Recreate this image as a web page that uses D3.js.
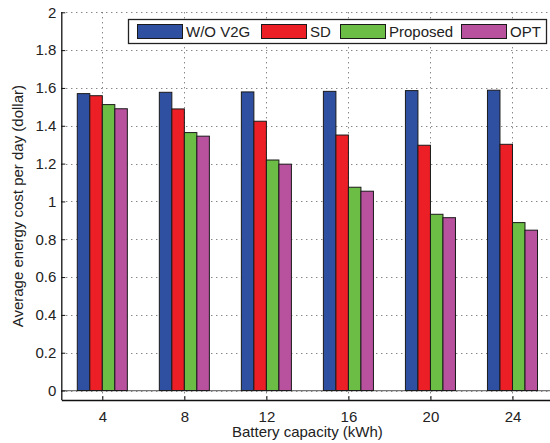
<!DOCTYPE html>
<html>
<head>
<meta charset="utf-8">
<script src="https://cdn.jsdelivr.net/npm/d3@7"></script>
<style>
  body { margin: 0; background: #fff; }
  svg { display: block; font-family: "Liberation Sans", Arial, Helvetica, sans-serif; }
</style>
</head>
<body>
<svg id="chart" width="550" height="443"></svg>
<script>
// battery capacity (kWh)
const capacities = [4, 8, 12, 16, 20, 24];
const seriesNames = ["W/O V2G", "SD", "Proposed", "OPT"];
const woV2G    = [1.570, 1.577, 1.579, 1.582, 1.586, 1.588];
const sd       = [1.559, 1.489, 1.424, 1.351, 1.297, 1.302];
const proposed = [1.512, 1.364, 1.219, 1.075, 0.932, 0.888];
const opt      = [1.490, 1.345, 1.197, 1.054, 0.914, 0.848];
const yTicks = [0, 0.2, 0.4, 0.6, 0.8, 1, 1.2, 1.4, 1.6, 1.8, 2];
const colors = ["#2f4fa1", "#ec1f26", "#6bbd45", "#b8529e"];

const seriesVals = [woV2G, sd, proposed, opt];

const svg = d3.select('#chart');
const plotLeft = 61.3, plotRight = 553.5, plotTop = 12.3, plotBottom = 400;

let x = d3.scaleLinear().domain([2, 26]).range([plotLeft, plotRight]);
let y = d3.scaleLinear().domain([-0.05, 2]).range([plotBottom, plotTop]);
// bars inside each group, in kWh units
let inner = d3.scaleBand().domain(d3.range(4)).range([-1.22, 1.22]);

// dotted grid
let grid = svg.append('g').attr('stroke', '#555').attr('stroke-width', 1)
  .attr('stroke-dasharray', '1,4');
grid.selectAll('.gy').data(yTicks).enter().append('line')
  .attr('x1', plotLeft).attr('x2', plotRight)
  .attr('y1', d => Math.round(y(d)) + 0.5).attr('y2', d => Math.round(y(d)) + 0.5);
grid.selectAll('.gx').data(capacities).enter().append('line')
  .attr('x1', d => Math.round(x(d)) + 0.5).attr('x2', d => Math.round(x(d)) + 0.5)
  .attr('y1', plotTop).attr('y2', plotBottom);

// baseline at zero
svg.append('line')
  .attr('x1', plotLeft).attr('x2', plotRight)
  .attr('y1', y(0)).attr('y2', y(0))
  .attr('stroke', '#777').attr('stroke-width', 1.2);

// bars
seriesVals.forEach(function (vals, s) {
  svg.append('g').selectAll('rect').data(vals).enter().append('rect')
    .attr('x', (d, i) => x(capacities[i] + inner(s)))
    .attr('width', x(inner.bandwidth()) - x(0))
    .attr('y', d => y(d))
    .attr('height', d => y(0) - y(d))
    .attr('fill', colors[s])
    .attr('stroke', '#1a1a1a').attr('stroke-width', 1);
});

// axes
let xAxis = svg.append('g')
  .attr('transform', 'translate(0,' + plotBottom + ')')
  .call(d3.axisBottom(x).tickValues(capacities).tickSizeInner(-4).tickSizeOuter(0).tickPadding(11));
let yAxis = svg.append('g')
  .attr('transform', 'translate(' + plotLeft + ',0)')
  .call(d3.axisLeft(y).tickValues(yTicks).tickSizeInner(-4).tickSizeOuter(0).tickPadding(5)
    .tickFormat(d3.format('')));
[xAxis, yAxis].forEach(function (a) {
  a.select('.domain').attr('stroke', '#111').attr('stroke-width', 1.3);
  a.selectAll('.tick line').attr('stroke', '#111');
  a.selectAll('.tick text').attr('font-size', 15).attr('fill', '#222')
    .attr('font-family', '"Liberation Sans", Arial, sans-serif');
});
// y axis line only down to bottom
yAxis.select('.domain').attr('d', 'M0.5,' + plotTop + 'V' + plotBottom);

svg.append('text')
  .attr('x', (plotLeft + plotRight) / 2).attr('y', 437)
  .attr('text-anchor', 'middle').attr('font-size', 15).attr('fill', '#222')
  .text('Battery capacity (kWh)');
svg.append('text')
  .attr('transform', 'translate(23,' + (plotTop + plotBottom) / 2 + ') rotate(-90)')
  .attr('text-anchor', 'middle').attr('font-size', 15).attr('fill', '#222')
  .text('Average energy cost per day (dollar)');

// legend
let legend = svg.append('g');
legend.append('rect')
  .attr('x', 128.5).attr('y', 19.5).attr('width', 418).attr('height', 24)
  .attr('fill', '#fff').attr('stroke', '#222').attr('stroke-width', 1.3);
const legendX = [137, 261, 340, 461];
seriesNames.forEach(function (name, s) {
  legend.append('rect')
    .attr('x', legendX[s] + 0.5).attr('y', 24.5).attr('width', 45).attr('height', 14)
    .attr('fill', colors[s]).attr('stroke', '#1a1a1a').attr('stroke-width', 1);
  legend.append('text')
    .attr('x', legendX[s] + 49).attr('y', 37)
    .attr('font-size', 15).attr('fill', '#222')
    .text(name);
});
</script>
</body>
</html>
